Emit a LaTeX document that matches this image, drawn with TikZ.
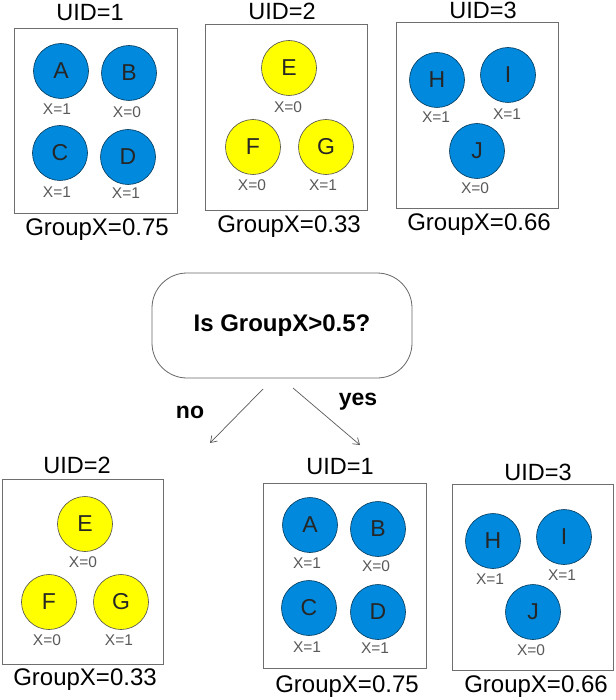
\documentclass[tikz,border=0pt]{standalone}
\usepackage{fontspec}
\setmainfont{Liberation Sans}
\usetikzlibrary{arrows.meta}
\definecolor{ballblue}{RGB}{0,137,221}
\definecolor{ballyellow}{RGB}{255,255,0}
\definecolor{boxgray}{RGB}{110,110,110}
\begin{document}
\begin{tikzpicture}[x=1pt, y=-1pt,
  ball/.style={circle, draw=black!80, line width=0.6pt, minimum size=55pt, inner sep=0pt,
    font=\fontsize{23}{23}\selectfont, text=black!85},
  blueball/.style={ball, fill=ballblue, draw=ballblue!40!black},
  yellowball/.style={ball, fill=ballyellow, draw=black!70},
  xval/.style={font=\fontsize{15.5}{15.5}\selectfont, text=black!65},
  uid/.style={font=\fontsize{23.5}{23.5}\selectfont},
  groupx/.style={font=\fontsize{24}{24}\selectfont},
  grpbox/.style={rectangle, draw=boxgray, line width=1pt, minimum width=162pt, minimum height=185pt},
  decision/.style={rectangle, draw=black!60, line width=0.8pt, rounded corners=35pt,
    minimum width=260pt, minimum height=105pt, font=\bfseries\fontsize{24}{24}\selectfont},
  answer/.style={font=\bfseries\fontsize{23}{23}\selectfont},
  arr/.style={-{Straight Barb[length=6pt, width=8pt]}, draw=black!65, line width=0.7pt}]
  \useasboundingbox (0,0) rectangle (615,700);
  % Top row: groups
  \node (box1) [grpbox, minimum width=163pt] at (95.5, 121.5) {};
  \node (uid1) [uid] at (90, 13) {UID=1};
  \node (a) [blueball] at (61, 71) {A};
  \node (b) [blueball] at (129, 73) {B};
  \node (c) [blueball] at (60, 153) {C};
  \node (d) [blueball] at (128, 157) {D};
  \node (xa) [xval] at (57, 109) {X=1};
  \node (xb) [xval] at (127, 112) {X=0};
  \node (xc) [xval] at (57, 192) {X=1};
  \node (xd) [xval] at (126, 193) {X=1};
  \node (gx1) [groupx] at (97, 230) {GroupX=0.75};

  \node (box2) [grpbox, minimum height=186pt] at (286, 118) {};
  \node (uid2) [uid] at (282, 11) {UID=2};
  \node (e) [yellowball] at (289, 68) {E};
  \node (f) [yellowball] at (253, 147) {F};
  \node (g) [yellowball] at (326, 147) {G};
  \node (xe) [xval] at (288, 107) {X=0};
  \node (xf) [xval] at (252, 185) {X=0};
  \node (xg) [xval] at (323, 185) {X=1};
  \node (gx2) [groupx] at (289, 227) {GroupX=0.33};

  \node (box3) [grpbox, minimum height=186pt] at (477, 116) {};
  \node (uid3) [uid] at (483, 10) {UID=3};
  \node (h) [blueball] at (437, 80) {H};
  \node (i) [blueball] at (508, 75) {I};
  \node (j) [blueball] at (477, 151) {J};
  \node (xh) [xval] at (436, 117) {X=1};
  \node (xi) [xval] at (507, 114) {X=1};
  \node (xj) [xval] at (475, 188) {X=0};
  \node (gx3) [groupx] at (479, 225) {GroupX=0.66};

  % Decision
  \node (test) [decision] at (282, 325.5) {Is GroupX>0.5?};
  \coordinate (noFrom) at (263, 389);
  \coordinate (noTo) at (210, 443);
  \coordinate (yesFrom) at (293, 388);
  \coordinate (yesTo) at (360, 445);
  \node (no) [answer] at (190, 412) {no};
  \node (yes) [answer] at (358, 402) {yes};
  % Arrow
  \draw[arr] (noFrom) -- (noTo);
  \draw[arr] (yesFrom) -- (yesTo);

  % Bottom row: sorted groups
  \node (sbox2) [grpbox, minimum width=161pt] at (82.5, 571.5) {};
  \node (suid2) [uid] at (77, 465) {UID=2};
  \node (se) [yellowball] at (85, 524) {E};
  \node (sf) [yellowball] at (49, 602) {F};
  \node (sg) [yellowball] at (121, 602) {G};
  \node (sxe) [xval] at (83, 562) {X=0};
  \node (sxf) [xval] at (47, 640) {X=0};
  \node (sxg) [xval] at (119, 640) {X=1};
  \node (sgx2) [groupx] at (85, 680) {GroupX=0.33};

  \node (sbox1) [grpbox, minimum width=163pt] at (344.5, 575.5) {};
  \node (suid1) [uid] at (340, 467) {UID=1};
  \node (sa) [blueball] at (310, 525) {A};
  \node (sb) [blueball] at (378, 529) {B};
  \node (sc) [blueball] at (309, 608) {C};
  \node (sd) [blueball] at (378, 612) {D};
  \node (sxa) [xval] at (307, 563) {X=1};
  \node (sxb) [xval] at (376, 566) {X=0};
  \node (sxc) [xval] at (307, 647) {X=1};
  \node (sxd) [xval] at (375, 648) {X=1};
  \node (sgx1) [groupx] at (347, 687) {GroupX=0.75};

  \node (sbox3) [grpbox, minimum width=161pt, minimum height=186pt] at (532.5, 577) {};
  \node (suid3) [uid] at (538, 472) {UID=3};
  \node (sh) [blueball] at (493, 541) {H};
  \node (si) [blueball] at (564, 537) {I};
  \node (sj) [blueball] at (533, 612) {J};
  \node (sxh) [xval] at (490, 579) {X=1};
  \node (sxi) [xval] at (562, 575) {X=1};
  \node (sxj) [xval] at (531, 650) {X=0};
  \node (sgx3) [groupx] at (536, 687) {GroupX=0.66};
\end{tikzpicture}
\end{document}
